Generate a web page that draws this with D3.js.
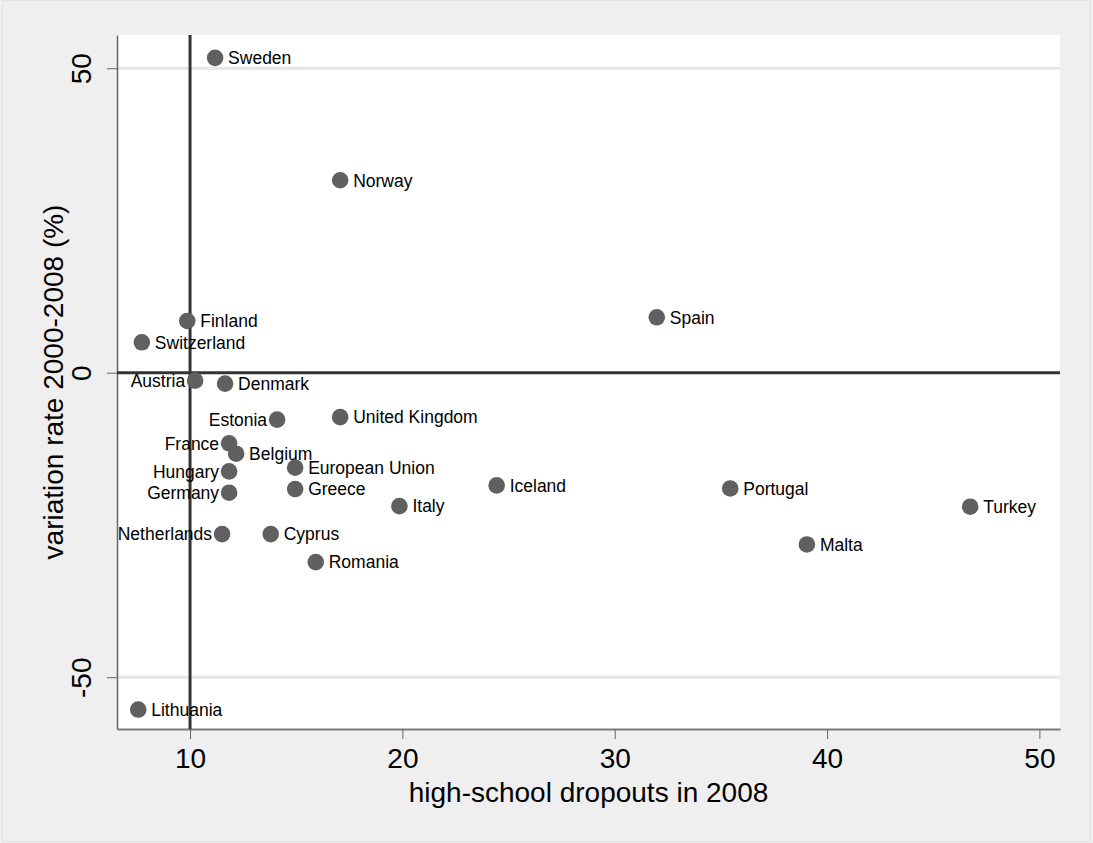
<!DOCTYPE html>
<html>
<head>
<meta charset="utf-8">
<script src="https://cdn.jsdelivr.net/npm/d3@7"></script>
<style>
  html, body { margin: 0; padding: 0; background: #efefef; }
  svg { display: block; font-family: "Liberation Sans", Arial, sans-serif; }
</style>
</head>
<body>
<svg id="chart" width="1093" height="843"></svg>
<script>
// ---- data ----
const countries = ["Sweden","Norway","Finland","Switzerland","Spain","Austria","Denmark","Estonia",
  "United Kingdom","France","Belgium","Hungary","Germany","European Union","Greece","Italy",
  "Iceland","Portugal","Turkey","Malta","Netherlands","Cyprus","Romania","Lithuania"];
const dropouts2008 = [11.18,17.07,9.87,7.73,31.98,10.24,11.65,14.10,
  17.07,11.84,12.17,11.84,11.84,14.95,14.95,19.86,
  24.44,35.44,46.74,39.05,11.51,13.80,15.92,7.56];
const variationRate = [51.7,31.6,8.5,5.0,9.1,-1.3,-1.8,-7.7,
  -7.3,-11.6,-13.3,-16.2,-19.7,-15.6,-19.1,-21.9,
  -18.5,-19.0,-22.0,-28.2,-26.5,-26.5,-31.1,-55.3];
const xTicks = [10,20,30,40,50];
const yTicks = [-50,0,50];
const yGrid = [-50,50];
const xRef = 10;   // vertical reference line
const yRef = 0;    // horizontal reference line
const leftLabeled = ["Austria","Estonia","France","Hungary","Germany","Netherlands"];
const xTitle = "high-school dropouts in 2008";
const yTitle = "variation rate 2000-2008 (%)";

// ---- layout ----
const W = 1093, H = 843;
const plot = { left: 117, right: 1060, top: 35, bottom: 729 };
const svg = d3.select("#chart");

svg.append("rect").attr("x", 0).attr("y", 0).attr("width", W).attr("height", H).attr("fill", "#efefef");
svg.append("rect").attr("x", 2.5).attr("y", 0.5).attr("width", W - 5).attr("height", H - 2)
  .attr("fill", "none").attr("stroke", "#e2e2e2").attr("stroke-width", 1);

const x = d3.scaleLinear().domain([6.56, 50.97]).range([plot.left, plot.right]);
const y = d3.scaleLinear().domain([-58.5, 55.45]).range([plot.bottom, plot.top]);

// plot region
svg.append("rect").attr("x", plot.left).attr("y", plot.top)
  .attr("width", plot.right - plot.left).attr("height", plot.bottom - plot.top).attr("fill", "#ffffff");

// gridlines
svg.append("g").selectAll("line").data(yGrid).join("line")
  .attr("x1", plot.left).attr("x2", plot.right)
  .attr("y1", d => y(d)).attr("y2", d => y(d))
  .attr("stroke", "#e6e6e6").attr("stroke-width", 3);

// axes
const fmt = d => String(d);
const xAxis = d3.axisBottom(x).tickValues(xTicks).tickFormat(fmt).tickSize(10).tickSizeOuter(0).tickPadding(8);
const gx = svg.append("g").attr("transform", `translate(0,${plot.bottom})`).call(xAxis);
gx.select(".domain").attr("stroke", "#7a7a7a").attr("stroke-width", 2);
gx.selectAll(".tick line").attr("stroke", "#666");
gx.selectAll(".tick text").attr("font-size", 28).attr("fill", "#000")
  .attr("font-family", "'Liberation Sans', Arial, sans-serif").attr("dy", "0.76em");

const yAxis = d3.axisLeft(y).tickValues(yTicks).tickFormat(fmt).tickSize(10).tickSizeOuter(0).tickPadding(0);
const gy = svg.append("g").attr("transform", `translate(${plot.left},0)`).call(yAxis);
gy.select(".domain").attr("stroke", "#666").attr("stroke-width", 1.5);
gy.selectAll(".tick line").attr("stroke", "#666");
gy.selectAll(".tick text").attr("font-size", 28).attr("fill", "#000")
  .attr("font-family", "'Liberation Sans', Arial, sans-serif")
  .attr("text-anchor", "middle").attr("x", 0)
  .attr("transform", "translate(-26,0) rotate(-90)")
  .attr("dy", "0");

// reference lines
svg.append("line")
  .attr("x1", x(xRef)).attr("x2", x(xRef)).attr("y1", plot.top).attr("y2", plot.bottom)
  .attr("stroke", "#333").attr("stroke-width", 3);
svg.append("line")
  .attr("x1", plot.left).attr("x2", plot.right).attr("y1", y(yRef)).attr("y2", y(yRef))
  .attr("stroke", "#333").attr("stroke-width", 3);

// points
const data = countries.map((c, i) => ({ name: c, x: dropouts2008[i], y: variationRate[i] }));
svg.append("g").selectAll("circle").data(data).join("circle")
  .attr("cx", d => x(d.x)).attr("cy", d => y(d.y)).attr("r", 8.3)
  .attr("fill", "#606060");

// labels
svg.append("g").selectAll("text").data(data).join("text")
  .attr("x", d => leftLabeled.includes(d.name) ? x(d.x) - 10 : x(d.x) + 13)
  .attr("y", d => y(d.y))
  .attr("dy", "0.36em")
  .attr("text-anchor", d => leftLabeled.includes(d.name) ? "end" : "start")
  .attr("font-size", 17.5).attr("fill", "#000")
  .text(d => d.name);

// axis titles
svg.append("text").attr("x", (plot.left + plot.right) / 2).attr("y", 802)
  .attr("text-anchor", "middle").attr("font-size", 28).attr("fill", "#000").text(xTitle);
svg.append("text").attr("transform", `translate(63,${(plot.top + plot.bottom) / 2}) rotate(-90)`)
  .attr("text-anchor", "middle").attr("font-size", 28).attr("fill", "#000").text(yTitle);
</script>
</body>
</html>
